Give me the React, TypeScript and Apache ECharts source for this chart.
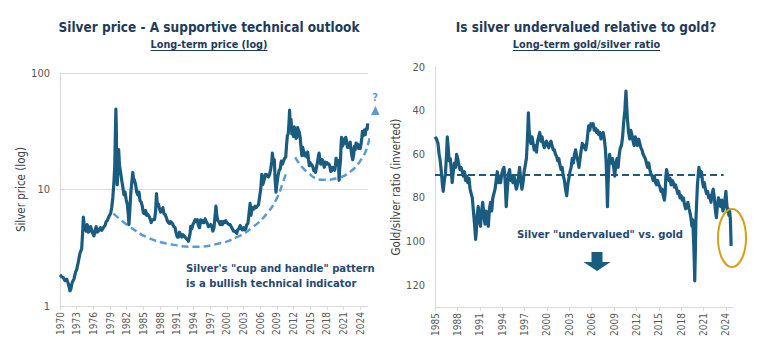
import React, { useEffect, useRef } from "react";
import * as echarts from "echarts";

// ---------- DATA ----------
const leftStartYear = 1970;
const rightStartYear = 1985;

// Silver price, USD/oz (decimal year, price)
const silverPrice: [number, number][] = [
  [1970.0, 1.85], [1970.3, 1.78], [1970.6, 1.75], [1970.9, 1.65], [1971.2, 1.7], [1971.5, 1.55], [1971.8, 1.35], [1971.95, 1.4],
  [1972.2, 1.6], [1972.5, 1.7], [1972.8, 1.95], [1973.0, 2.05], [1973.3, 2.4], [1973.6, 2.85], [1973.9, 3.1], [1974.1, 4.5],
  [1974.2, 5.8], [1974.35, 5.0], [1974.5, 4.6], [1974.7, 4.4], [1974.9, 5.0], [1975.1, 4.3], [1975.3, 4.4], [1975.5, 4.8],
  [1975.7, 4.5], [1975.9, 4.2], [1976.1, 4.0], [1976.3, 4.4], [1976.5, 4.8], [1976.7, 4.3], [1976.9, 4.4], [1977.1, 4.6],
  [1977.3, 4.7], [1977.5, 4.45], [1977.7, 4.6], [1977.9, 4.8], [1978.1, 4.9], [1978.3, 5.3], [1978.5, 5.4], [1978.7, 5.7],
  [1978.9, 6.0], [1979.1, 6.2], [1979.3, 7.0], [1979.5, 8.5], [1979.7, 11.5], [1979.85, 16], [1979.95, 28], [1980.05, 49],
  [1980.12, 36], [1980.2, 16], [1980.3, 11], [1980.4, 15], [1980.55, 22], [1980.7, 16], [1980.9, 14], [1981.1, 12],
  [1981.3, 10.5], [1981.5, 9], [1981.7, 9.5], [1981.9, 8.2], [1982.1, 7.5], [1982.3, 6.0], [1982.4, 5.0], [1982.55, 6.5],
  [1982.75, 9.5], [1982.95, 12.0], [1983.1, 14.0], [1983.2, 12.5], [1983.4, 12.0], [1983.6, 11.0], [1983.8, 9.5], [1984.0, 9.0],
  [1984.2, 9.5], [1984.4, 8.0], [1984.6, 7.8], [1984.8, 7.2], [1985.0, 6.3], [1985.2, 6.2], [1985.4, 6.6], [1985.6, 6.0],
  [1985.8, 6.1], [1986.0, 5.9], [1986.2, 5.6], [1986.4, 5.2], [1986.6, 5.5], [1986.8, 5.5], [1987.0, 5.5], [1987.2, 6.5],
  [1987.35, 9.2], [1987.5, 7.5], [1987.7, 7.5], [1987.9, 6.8], [1988.1, 6.4], [1988.3, 6.5], [1988.5, 7.0], [1988.7, 6.2],
  [1988.9, 6.1], [1989.1, 5.8], [1989.3, 5.4], [1989.5, 5.2], [1989.7, 5.1], [1989.9, 5.3], [1990.1, 5.2], [1990.3, 5.0],
  [1990.5, 4.8], [1990.7, 4.7], [1990.9, 4.2], [1991.1, 3.9], [1991.3, 3.9], [1991.5, 4.3], [1991.7, 4.1], [1991.9, 3.9],
  [1992.1, 4.1], [1992.3, 4.0], [1992.5, 3.9], [1992.7, 3.8], [1992.9, 3.7], [1993.1, 3.6], [1993.2, 3.6], [1993.4, 4.2],
  [1993.5, 4.8], [1993.7, 4.6], [1993.9, 5.0], [1994.1, 5.2], [1994.3, 5.5], [1994.5, 5.3], [1994.7, 5.5], [1994.9, 4.9],
  [1995.1, 4.7], [1995.3, 5.5], [1995.5, 5.2], [1995.7, 5.4], [1995.9, 5.2], [1996.1, 5.6], [1996.3, 5.3], [1996.5, 5.1],
  [1996.7, 4.8], [1996.9, 4.9], [1997.1, 5.0], [1997.3, 4.8], [1997.5, 4.4], [1997.7, 4.7], [1997.9, 6.0], [1998.05, 7.2],
  [1998.2, 6.0], [1998.4, 5.4], [1998.6, 5.3], [1998.8, 5.0], [1999.0, 5.3], [1999.2, 5.0], [1999.4, 5.3], [1999.6, 5.2],
  [1999.8, 5.4], [2000.0, 5.2], [2000.2, 5.1], [2000.4, 5.0], [2000.6, 5.0], [2000.8, 4.8], [2001.0, 4.6], [2001.2, 4.4],
  [2001.4, 4.4], [2001.6, 4.3], [2001.8, 4.2], [2001.95, 4.5], [2002.2, 4.6], [2002.4, 4.9], [2002.6, 4.6], [2002.8, 4.5],
  [2003.0, 4.7], [2003.2, 4.5], [2003.4, 4.6], [2003.6, 5.0], [2003.8, 5.1], [2004.0, 6.2], [2004.2, 7.6], [2004.35, 6.0],
  [2004.5, 6.6], [2004.7, 7.0], [2004.9, 6.8], [2005.1, 7.2], [2005.3, 7.0], [2005.5, 7.2], [2005.7, 7.4], [2005.9, 8.6],
  [2006.1, 10.0], [2006.3, 13.5], [2006.45, 11.0], [2006.6, 11.5], [2006.8, 12.5], [2006.95, 13.5], [2007.1, 13.5], [2007.3, 13.2],
  [2007.5, 12.8], [2007.7, 13.5], [2007.9, 15.0], [2008.1, 17.5], [2008.2, 20.5], [2008.4, 17.0], [2008.55, 18.0], [2008.7, 12.0],
  [2008.85, 9.5], [2009.0, 11.0], [2009.2, 13.0], [2009.4, 14.5], [2009.6, 15.0], [2009.8, 17.5], [2010.0, 16.5], [2010.2, 17.5],
  [2010.4, 18.5], [2010.6, 19.0], [2010.75, 24.0], [2010.9, 29.0], [2011.05, 30.0], [2011.2, 38.0], [2011.3, 48.0], [2011.4, 35.0],
  [2011.55, 40.0], [2011.7, 30.0], [2011.85, 32.0], [2012.0, 28.5], [2012.15, 34.5], [2012.3, 30.5], [2012.45, 27.5], [2012.6, 28.0],
  [2012.75, 34.0], [2012.9, 32.0], [2013.05, 31.0], [2013.2, 28.0], [2013.35, 23.0], [2013.5, 19.5], [2013.65, 23.0], [2013.8, 21.5],
  [2014.0, 19.5], [2014.2, 20.5], [2014.4, 19.0], [2014.55, 21.0], [2014.7, 18.0], [2014.85, 16.0], [2015.0, 17.0], [2015.15, 16.5],
  [2015.3, 16.3], [2015.5, 15.5], [2015.65, 14.5], [2015.8, 15.0], [2015.95, 14.0], [2016.1, 15.2], [2016.3, 17.0], [2016.5, 19.5],
  [2016.6, 20.5], [2016.75, 18.0], [2016.9, 16.5], [2017.05, 17.0], [2017.2, 18.0], [2017.4, 16.5], [2017.55, 15.5], [2017.7, 17.2],
  [2017.9, 16.5], [2018.05, 17.0], [2018.2, 16.5], [2018.4, 16.5], [2018.55, 15.7], [2018.7, 14.3], [2018.9, 14.5], [2019.05, 15.5],
  [2019.2, 15.0], [2019.4, 14.6], [2019.55, 16.0], [2019.65, 18.5], [2019.8, 17.0], [2019.95, 17.8], [2020.1, 17.5], [2020.2, 12.0],
  [2020.3, 15.0], [2020.45, 17.5], [2020.55, 24.0], [2020.65, 28.0], [2020.75, 23.5], [2020.9, 24.0], [2021.05, 27.0], [2021.15, 26.5],
  [2021.3, 25.0], [2021.4, 28.0], [2021.55, 26.0], [2021.7, 23.0], [2021.85, 23.5], [2022.0, 23.0], [2022.2, 25.5], [2022.35, 22.0],
  [2022.5, 19.5], [2022.65, 18.0], [2022.8, 19.5], [2022.95, 23.5], [2023.1, 22.0], [2023.25, 25.0], [2023.4, 23.5], [2023.55, 24.5],
  [2023.7, 22.5], [2023.85, 23.0], [2024.0, 22.5], [2024.15, 24.5], [2024.3, 28.0], [2024.4, 31.5], [2024.55, 29.0], [2024.7, 31.0],
  [2024.8, 32.5], [2024.9, 29.5], [2025.0, 32.0], [2025.15, 33.5], [2025.25, 33.0], [2025.35, 37.0],
];

// "Cup and handle" guide curves (decimal year, price)
const cupCurve: [number, number][] = [
  [1979.6, 6.2], [1982.3, 4.9], [1985.6, 3.9], [1989.8, 3.4], [1994.0, 3.23], [1998.2, 3.4],
  [2001.8, 3.9], [2004.8, 4.8], [2007.2, 6.2], [2009.0, 8.4], [2010.05, 11.3], [2010.6, 13.5],
];
const handleCurve: [number, number][] = [
  [2012.3, 18.9], [2014.4, 14.2], [2017.4, 12.1], [2019.8, 12.5], [2022.2, 14.2],
  [2024.3, 18.5], [2025.45, 24.9], [2026.3, 38], [2026.5, 44],
];

// Gold/silver ratio (decimal year, ratio)
const goldSilverRatio: [number, number][] = [
  [1985.0, 52], [1985.2, 53], [1985.4, 55], [1985.55, 60], [1985.7, 63], [1985.85, 68], [1986.0, 74], [1986.1, 77],
  [1986.25, 72], [1986.4, 69], [1986.55, 60], [1986.65, 52], [1986.75, 56], [1986.9, 63], [1987.05, 62], [1987.2, 68],
  [1987.3, 73], [1987.45, 68], [1987.6, 64], [1987.75, 66], [1987.9, 60], [1988.05, 62], [1988.2, 65], [1988.35, 67],
  [1988.5, 66], [1988.65, 68], [1988.8, 70], [1988.95, 68], [1989.1, 72], [1989.25, 70], [1989.4, 73], [1989.55, 71],
  [1989.7, 76], [1989.85, 78], [1990.0, 80], [1990.15, 86], [1990.3, 92], [1990.45, 99], [1990.55, 95], [1990.65, 88],
  [1990.8, 84], [1990.95, 90], [1991.1, 93], [1991.25, 86], [1991.4, 82], [1991.55, 88], [1991.7, 92], [1991.85, 86],
  [1992.0, 90], [1992.15, 93], [1992.3, 85], [1992.45, 82], [1992.6, 86], [1992.75, 80], [1992.9, 78], [1993.05, 76],
  [1993.2, 72], [1993.35, 68], [1993.5, 73], [1993.65, 70], [1993.8, 73], [1993.95, 69], [1994.1, 67], [1994.25, 66],
  [1994.4, 72], [1994.55, 84], [1994.7, 76], [1994.85, 69], [1995.0, 67], [1995.15, 72], [1995.3, 70], [1995.45, 73],
  [1995.6, 70], [1995.75, 73], [1995.9, 76], [1996.05, 74], [1996.2, 70], [1996.35, 66], [1996.5, 72], [1996.65, 76],
  [1996.8, 73], [1996.95, 68], [1997.1, 65], [1997.25, 62], [1997.35, 56], [1997.45, 48], [1997.52, 41], [1997.6, 48],
  [1997.7, 52], [1997.85, 55], [1998.0, 52], [1998.15, 55], [1998.3, 58], [1998.45, 56], [1998.6, 59], [1998.75, 54],
  [1998.9, 52], [1999.05, 50], [1999.2, 54], [1999.35, 52], [1999.5, 55], [1999.65, 57], [1999.8, 55], [1999.95, 54],
  [2000.1, 56], [2000.25, 57], [2000.4, 55], [2000.55, 54], [2000.7, 56], [2000.85, 58], [2001.0, 58], [2001.15, 60],
  [2001.3, 61], [2001.45, 63], [2001.6, 62], [2001.75, 65], [2001.9, 67], [2002.05, 66], [2002.2, 70], [2002.35, 72],
  [2002.5, 76], [2002.65, 79], [2002.8, 74], [2002.95, 71], [2003.1, 68], [2003.25, 66], [2003.4, 62], [2003.55, 64],
  [2003.7, 60], [2003.85, 58], [2004.0, 61], [2004.15, 63], [2004.3, 66], [2004.45, 62], [2004.6, 58], [2004.75, 55],
  [2004.9, 57], [2005.05, 56], [2005.2, 58], [2005.35, 55], [2005.5, 50], [2005.6, 47], [2005.75, 49], [2005.9, 46],
  [2006.05, 47], [2006.2, 46], [2006.35, 49], [2006.5, 48], [2006.65, 50], [2006.8, 49], [2006.95, 51], [2007.1, 50],
  [2007.25, 53], [2007.4, 51], [2007.55, 50], [2007.7, 53], [2007.85, 58], [2007.95, 64], [2008.05, 75], [2008.12, 84],
  [2008.2, 74], [2008.3, 66], [2008.4, 60], [2008.5, 62], [2008.65, 64], [2008.8, 62], [2008.95, 66], [2009.1, 70],
  [2009.25, 64], [2009.4, 62], [2009.55, 66], [2009.7, 60], [2009.85, 57], [2010.0, 56], [2010.15, 52], [2010.3, 45],
  [2010.45, 40], [2010.6, 31], [2010.7, 38], [2010.8, 44], [2010.95, 50], [2011.1, 53], [2011.25, 49], [2011.4, 51],
  [2011.55, 54], [2011.7, 56], [2011.85, 52], [2012.0, 54], [2012.15, 56], [2012.3, 53], [2012.45, 55], [2012.6, 57],
  [2012.75, 58], [2012.9, 60], [2013.05, 61], [2013.2, 62], [2013.35, 64], [2013.5, 66], [2013.65, 64], [2013.8, 67],
  [2013.95, 69], [2014.1, 70], [2014.25, 72], [2014.4, 70], [2014.55, 73], [2014.7, 74], [2014.85, 72], [2015.0, 74],
  [2015.15, 75], [2015.3, 77], [2015.45, 76], [2015.6, 79], [2015.75, 81], [2015.85, 78], [2015.95, 70], [2016.05, 67],
  [2016.2, 70], [2016.35, 72], [2016.5, 71], [2016.65, 74], [2016.8, 72], [2016.95, 73], [2017.1, 75], [2017.25, 74],
  [2017.4, 76], [2017.55, 78], [2017.7, 77], [2017.85, 80], [2018.0, 79], [2018.15, 81], [2018.3, 80], [2018.45, 83],
  [2018.6, 85], [2018.75, 84], [2018.9, 82], [2019.05, 85], [2019.2, 87], [2019.3, 89], [2019.45, 93], [2019.55, 90],
  [2019.65, 98], [2019.75, 108], [2019.82, 118], [2019.9, 105], [2019.98, 90], [2020.08, 82], [2020.18, 74], [2020.28, 70],
  [2020.38, 66], [2020.48, 68], [2020.6, 70], [2020.72, 68], [2020.85, 72], [2020.98, 75], [2021.1, 73], [2021.25, 76],
  [2021.4, 78], [2021.55, 77], [2021.7, 80], [2021.85, 79], [2022.0, 82], [2022.15, 78], [2022.3, 76], [2022.45, 80],
  [2022.6, 86], [2022.72, 89], [2022.85, 84], [2023.0, 80], [2023.15, 82], [2023.3, 84], [2023.45, 81], [2023.6, 86],
  [2023.75, 84], [2023.9, 80], [2024.0, 77], [2024.1, 82], [2024.2, 86], [2024.3, 85], [2024.4, 88], [2024.5, 86],
  [2024.6, 90], [2024.7, 102],
];

const ratioAverage = 69.5;
const ratioAverageSpan: [number, number] = [1985.0, 2023.7];

// ---------- STYLE ----------
const FONT = "'DejaVu Sans Condensed', 'Roboto', sans-serif";
const LINE = "#1a5c80";
const NAVY = "#1f3b5a";
const NOTE = "#1f4a72";
const LIGHT = "#5b9bd5";
const GREY = "#595959";
const AXIS = "#d9d9d9";

function measure(text: string, font: string): number {
  const ctx = document.createElement("canvas").getContext("2d");
  if (!ctx) return text.length * 6;
  ctx.font = font;
  return ctx.measureText(text).width;
}

export default function App() {
  const ref = useRef<HTMLDivElement>(null);

  useEffect(() => {
    if (!ref.current) return;
    const chart = echarts.init(ref.current, null, { renderer: "svg" });

    const shiftL = (d: [number, number][]) => d.map(([t, v]) => [t - leftStartYear, v]);
    const shiftR = (d: [number, number][]) => d.map(([t, v]) => [t - rightStartYear, v]);

    const titleFont = `bold 13.5px ${FONT}`;
    const subFont = `bold 10.8px ${FONT}`;
    const noteFont = `bold 11.2px ${FONT}`;
    const subL = "Long-term price (log)";
    const subR = "Long-term gold/silver ratio";
    const wL = measure(subL, subFont);
    const wR = measure(subR, subFont);

    const xAxisCommon = {
      type: "value",
      interval: 3,
      axisLine: { show: true, lineStyle: { color: AXIS, width: 1 } },
      axisTick: { show: true, length: 4, lineStyle: { color: AXIS } },
      splitLine: { show: false },
      axisLabel: { rotate: 90, color: GREY, fontSize: 10, fontFamily: FONT, margin: 6, showMaxLabel: false },
    };

    const option: any = {
      animation: false,
      backgroundColor: "#ffffff",
      textStyle: { fontFamily: FONT },
      grid: [
        { left: 60, top: 73, width: 308, height: 233 },
        { left: 435, top: 67, width: 298, height: 240 },
      ],
      xAxis: [
        {
          ...xAxisCommon,
          gridIndex: 0,
          min: 0,
          max: 55.4,
          axisLabel: { ...xAxisCommon.axisLabel, formatter: (v: number) => String(leftStartYear + v) },
        },
        {
          ...xAxisCommon,
          gridIndex: 1,
          min: 0,
          max: 39.95,
          axisLabel: { ...xAxisCommon.axisLabel, formatter: (v: number) => String(rightStartYear + v) },
        },
      ],
      yAxis: [
        {
          type: "log",
          logBase: 10,
          gridIndex: 0,
          min: 1,
          max: 100,
          axisLine: { show: true, lineStyle: { color: AXIS } },
          axisTick: { show: false },
          splitLine: { show: true, lineStyle: { color: AXIS, width: 1 } },
          axisLabel: { color: GREY, fontSize: 11, margin: 10 },
          name: "Silver price (log)",
          nameLocation: "middle",
          nameGap: 32,
          nameTextStyle: { color: "#404040", fontSize: 11.5, fontFamily: FONT },
        },
        {
          type: "value",
          gridIndex: 1,
          inverse: true,
          min: 20,
          max: 130,
          interval: 20,
          axisLine: { show: true, lineStyle: { color: AXIS } },
          axisTick: { show: false },
          splitLine: { show: false },
          axisLabel: { color: GREY, fontSize: 11, margin: 10, showMaxLabel: false },
          name: "Gold/silver ratio (inverted)",
          nameLocation: "middle",
          nameGap: 31,
          nameTextStyle: { color: "#404040", fontSize: 11.5, fontFamily: FONT },
        },
      ],
      series: [
        {
          type: "line",
          xAxisIndex: 0,
          yAxisIndex: 0,
          data: shiftL(cupCurve),
          smooth: true,
          symbol: "none",
          lineStyle: { color: LIGHT, width: 2.5, type: [7, 4] },
          z: 2,
        },
        {
          type: "line",
          xAxisIndex: 0,
          yAxisIndex: 0,
          data: shiftL(handleCurve),
          smooth: true,
          symbol: "none",
          clip: false,
          lineStyle: { color: LIGHT, width: 2.5, type: [7, 4] },
          z: 2,
        },
        {
          type: "line",
          xAxisIndex: 0,
          yAxisIndex: 0,
          data: shiftL(silverPrice),
          symbol: "none",
          lineStyle: { color: LINE, width: 3.2, join: "round" },
          z: 3,
        },
        {
          type: "line",
          xAxisIndex: 1,
          yAxisIndex: 1,
          data: shiftR(goldSilverRatio),
          symbol: "none",
          lineStyle: { color: LINE, width: 3.2, join: "round" },
          z: 3,
        },
        {
          type: "line",
          xAxisIndex: 1,
          yAxisIndex: 1,
          data: shiftR([
            [ratioAverageSpan[0], ratioAverage],
            [ratioAverageSpan[1], ratioAverage],
          ]),
          symbol: "none",
          lineStyle: { color: LINE, width: 2, type: [7, 4] },
          z: 4,
        },
      ],
      graphic: [
        {
          type: "text",
          x: 209,
          y: 27,
          style: { text: "Silver price - A supportive technical outlook", fill: NAVY, font: titleFont, textAlign: "center", textVerticalAlign: "middle" },
        },
        {
          type: "text",
          x: 209,
          y: 44,
          style: { text: subL, fill: NAVY, font: subFont, textAlign: "center", textVerticalAlign: "middle" },
        },
        { type: "line", shape: { x1: 209 - wL / 2, y1: 50.5, x2: 209 + wL / 2, y2: 50.5 }, style: { stroke: NAVY, lineWidth: 1 } },
        {
          type: "text",
          x: 586,
          y: 27,
          style: { text: "Is silver undervalued relative to gold?", fill: NAVY, font: titleFont, textAlign: "center", textVerticalAlign: "middle" },
        },
        {
          type: "text",
          x: 586.5,
          y: 44,
          style: { text: subR, fill: NAVY, font: subFont, textAlign: "center", textVerticalAlign: "middle" },
        },
        { type: "line", shape: { x1: 586.5 - wR / 2, y1: 50.5, x2: 586.5 + wR / 2, y2: 50.5 }, style: { stroke: NAVY, lineWidth: 1 } },
        {
          type: "text",
          x: 186,
          y: 261,
          style: {
            text: "Silver's \"cup and handle\" pattern\nis a bullish technical indicator",
            fill: NOTE,
            font: noteFont,
            lineHeight: 15,
            textAlign: "left",
            textVerticalAlign: "top",
          },
        },
        {
          type: "text",
          x: 375,
          y: 97,
          style: { text: "?", fill: LIGHT, font: `bold 11px ${FONT}`, textAlign: "center", textVerticalAlign: "middle" },
        },
        {
          type: "polygon",
          shape: { points: [[375.5, 106], [371, 115], [379.5, 115]] },
          style: { fill: LIGHT },
        },
        {
          type: "text",
          x: 600,
          y: 234,
          style: { text: "Silver \"undervalued\" vs. gold", fill: NOTE, font: noteFont, textAlign: "center", textVerticalAlign: "middle" },
        },
        {
          type: "polygon",
          shape: {
            points: [
              [591.5, 252], [602.5, 252], [602.5, 262], [610.5, 262], [597, 271], [583.5, 262], [591.5, 262],
            ],
          },
          style: { fill: LINE },
        },
        {
          type: "ellipse",
          shape: { cx: 732, cy: 238, rx: 14, ry: 29 },
          style: { fill: "none", stroke: "#d4a017", lineWidth: 2 },
          z: 10,
        },
      ],
    };

    chart.setOption(option);
    return () => chart.dispose();
  }, []);

  return <div ref={ref} style={{ position: "absolute", left: 0, top: 0, width: 768, height: 358 }} />;
}
